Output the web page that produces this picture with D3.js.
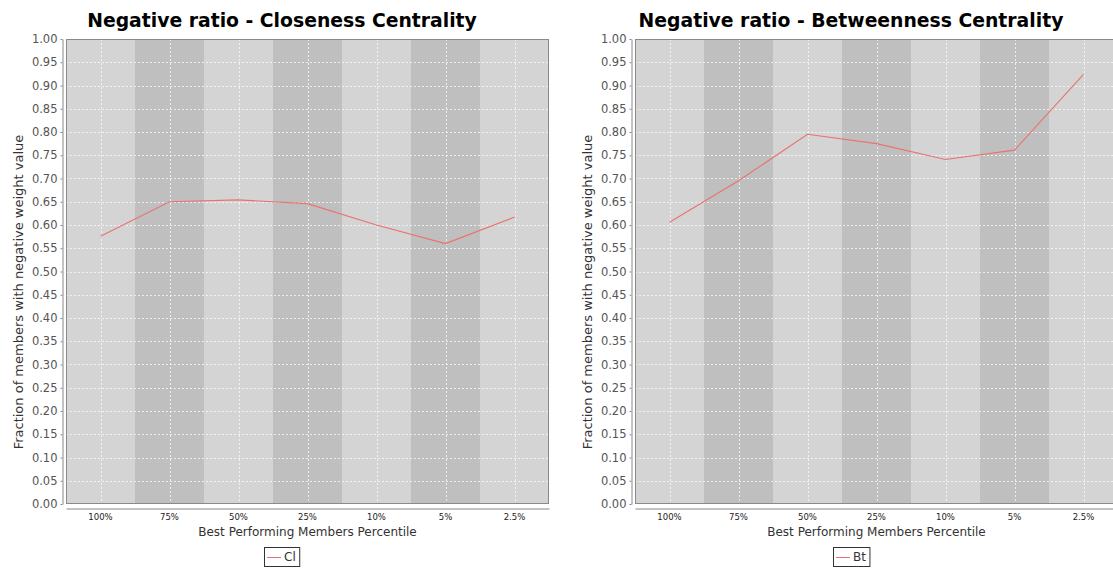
<!DOCTYPE html>
<html>
<head>
<meta charset="utf-8">
<script src="https://cdn.jsdelivr.net/npm/d3@7"></script>
<style>
  body { margin: 0; background: #ffffff; }
  svg { display: block; font-family: "DejaVu Sans", sans-serif; }
  .grid line { stroke: #ffffff; stroke-opacity: 0.7; stroke-dasharray: 2,2; }
</style>
</head>
<body>
<svg id="chart"></svg>
<script>
// data
const categories = ["100%", "75%", "50%", "25%", "10%", "5%", "2.5%"];
const closenessValues = [0.576, 0.650, 0.654, 0.646, 0.600, 0.560, 0.617];
const betweennessValues = [0.606, 0.695, 0.795, 0.775, 0.741, 0.761, 0.924];
const yTicks = d3.range(0, 21).map(i => i * 0.05);

const width = 1113;
const height = 570;

const svg = d3.select("#chart")
              .attr("width", width)
              .attr("height", height);

// one panel: plot area is 483 x 465 like the jfreechart output
function drawPanel(offsetX, title, seriesName, values) {
    const margin = { top: 39, left: 66 };
    const plotW = 483, plotH = 465;

    const g = svg.append("g")
                 .attr("transform", "translate(" + offsetX + ",0)");

    const xScale = d3.scaleBand()
                     .domain(categories)
                     .range([margin.left, margin.left + plotW]);

    const yScale = d3.scaleLinear()
                     .domain([0, 1])
                     .range([margin.top + plotH, margin.top]);

    // plot background
    g.append("rect")
     .attr("x", margin.left)
     .attr("y", margin.top)
     .attr("width", plotW)
     .attr("height", plotH)
     .attr("fill", "#d4d4d4");

    // alternating category bands
    g.append("g")
     .selectAll("rect")
     .data(categories.filter((d, i) => i % 2 == 1))
     .enter().append("rect")
     .attr("x", d => xScale(d))
     .attr("y", margin.top)
     .attr("width", xScale.bandwidth())
     .attr("height", plotH)
     .attr("fill", "#bfbfbf");

    // grid lines
    const grid = g.append("g").attr("class", "grid");
    grid.selectAll("line.horizontal")
        .data(yTicks.slice(1, -1))
        .enter().append("line")
        .attr("x1", margin.left)
        .attr("x2", margin.left + plotW)
        .attr("y1", d => Math.round(yScale(d)) + 0.5)
        .attr("y2", d => Math.round(yScale(d)) + 0.5);
    grid.selectAll("line.vertical")
        .data(categories)
        .enter().append("line")
        .attr("x1", d => Math.round(xScale(d) + xScale.bandwidth() / 2) + 0.5)
        .attr("x2", d => Math.round(xScale(d) + xScale.bandwidth() / 2) + 0.5)
        .attr("y1", margin.top)
        .attr("y2", margin.top + plotH);

    // plot outline
    g.append("rect")
     .attr("x", margin.left + 0.5)
     .attr("y", margin.top + 0.5)
     .attr("width", plotW - 1)
     .attr("height", plotH - 1)
     .attr("fill", "none")
     .attr("stroke", "#8a8a8a");

    // series line
    const line = d3.line()
                   .x((d, i) => xScale(categories[i]) + xScale.bandwidth() / 2)
                   .y(d => yScale(d));
    g.append("path")
     .datum(values)
     .attr("d", line)
     .attr("fill", "none")
     .attr("stroke", "#eb7171")
     .attr("stroke-width", 1.1);

    // y axis, offset a few pixels from the plot
    const yAxis = g.append("g")
                   .attr("transform", "translate(" + (margin.left - 3.5) + ",0)")
                   .call(d3.axisLeft(yScale)
                           .tickValues(yTicks)
                           .tickFormat(d3.format(".2f"))
                           .tickSize(2)
                           .tickSizeOuter(0)
                           .tickPadding(3));
    yAxis.select(".domain").attr("stroke", "#888888");
    yAxis.selectAll(".tick line").attr("stroke", "#888888");
    yAxis.selectAll(".tick text")
         .attr("fill", "#555555")
         .style("font-size", "11.5px")
         .style("font-family", "DejaVu Sans, sans-serif");

    // x axis
    const xAxis = g.append("g")
                   .attr("transform", "translate(0," + (margin.top + plotH + 4.5) + ")")
                   .call(d3.axisBottom(xScale).tickSize(0).tickPadding(5));
    xAxis.select(".domain").attr("stroke", "#888888");
    xAxis.selectAll(".tick text")
         .attr("fill", "#222222")
         .style("font-size", "8.5px")
         .style("font-family", "DejaVu Sans, sans-serif");

    // axis labels
    g.append("text")
     .attr("x", margin.left + plotW / 2)
     .attr("y", 536)
     .attr("text-anchor", "middle")
     .attr("fill", "#333333")
     .style("font-size", "12px")
     .text("Best Performing Members Percentile");

    g.append("text")
     .attr("transform", "translate(23,292) rotate(-90)")
     .attr("text-anchor", "middle")
     .attr("fill", "#333333")
     .style("font-size", "13px")
     .text("Fraction of members with negative weight value");

    // title
    g.append("text")
     .attr("x", 282)
     .attr("y", 27)
     .attr("text-anchor", "middle")
     .attr("fill", "#000000")
     .style("font-size", "18.8px")
     .style("font-weight", "bold")
     .text(title);

    // legend
    const legend = g.append("g");
    const legendText = legend.append("text")
                             .attr("x", 284)
                             .attr("y", 561)
                             .attr("fill", "#333333")
                             .style("font-size", "12px")
                             .text(seriesName);
    const tw = legendText.node().getComputedTextLength();
    legend.append("line")
          .attr("x1", 267).attr("x2", 281)
          .attr("y1", 557.5).attr("y2", 557.5)
          .attr("stroke", "#eb7171");
    legend.append("rect")
          .attr("x", 264.5)
          .attr("y", 547.5)
          .attr("width", 284 + tw + 4 - 264.5)
          .attr("height", 19)
          .attr("fill", "none")
          .attr("stroke", "#333333");
}

drawPanel(0, "Negative ratio - Closeness Centrality", "Cl", closenessValues);
drawPanel(569, "Negative ratio - Betweenness Centrality", "Bt", betweennessValues);
</script>
</body>
</html>
